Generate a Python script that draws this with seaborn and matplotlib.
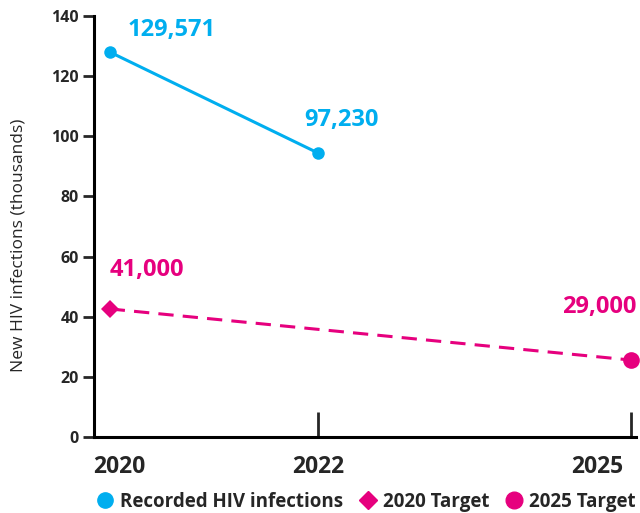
import matplotlib.pyplot as plt
import pandas as pd
import seaborn as sns
from matplotlib.lines import Line2D
from matplotlib.transforms import ScaledTranslation

# values (thousands)
recorded_years = [2020, 2022]
recorded_values = [128.0, 94.4]
recorded_labels = ["129,571", "97,230"]

target_years = [2020, 2025]
target_values = [42.6, 25.6]
target_labels = ["41,000", "29,000"]

tick_years = [2020, 2022, 2025]
tick_labels = ["2020", "2022", "2025"]

BLUE = "#00AEEF"
PINK = "#E6007E"

sns.set_style("white")
plt.rcParams["font.family"] = ["Open Sans", "DejaVu Sans"]

recorded = pd.DataFrame({"year": recorded_years, "value": recorded_values})
target = pd.DataFrame({"year": target_years, "value": target_values})

fig = plt.figure(figsize=(6.4, 5.13), dpi=100)
ax = fig.add_axes([0.147, 0.148, 0.847, 0.821])

sns.lineplot(data=recorded, x="year", y="value", color=BLUE, lw=2.2,
             marker="o", markersize=9, markeredgewidth=0, ax=ax)
sns.lineplot(data=target, x="year", y="value", color=PINK, lw=2.2,
             ax=ax)
ax.lines[-1].set_dashes([5, 3])
ax.plot(target_years[0], target_values[0], marker="D", color=PINK, ms=9, mew=0, clip_on=False)
ax.plot(target_years[1], target_values[1], marker="o", color=PINK, ms=12, mew=0, clip_on=False)

# value labels
ann = dict(textcoords="offset points", fontsize=17, fontweight="bold")
ax.annotate(recorded_labels[0], (recorded_years[0], recorded_values[0]),
            xytext=(13, 16), color=BLUE, ha="left", va="center", **ann)
ax.annotate(recorded_labels[1], (recorded_years[1], recorded_values[1]),
            xytext=(-10, 24), color=BLUE, ha="left", va="center", **ann)
ax.annotate(target_labels[0], (target_years[0], target_values[0]),
            xytext=(0, 28), color=PINK, ha="left", va="center", **ann)
ax.annotate(target_labels[1], (target_years[1], target_values[1]),
            xytext=(4, 38), color=PINK, ha="right", va="center", **ann)

ax.set_xlim(2019.85, 2025.05)
ax.set_ylim(0, 140)
ax.set_yticks(range(0, 141, 20))
ax.set_xticks(tick_years)
ax.set_xticklabels([])
for lab in ax.get_yticklabels():
    lab.set_fontweight("bold")
    lab.set_fontsize(11.5)

# year labels under the axis, nudged like the reference
nudges = [(0.10, "center"), (0.0, "center"), (-0.08, "right")]
for yr, txt, (dx, ha) in zip(tick_years, tick_labels, nudges):
    ax.text(yr, 0, txt, ha=ha, va="top", fontsize=16.5, fontweight="bold",
            transform=ax.get_xaxis_transform()
            + ScaledTranslation(dx, -0.18, fig.dpi_scale_trans))

ax.tick_params(axis="y", direction="out", length=8, width=2, pad=3, left=True)
ax.tick_params(axis="x", direction="in", length=18, width=2, bottom=True)
ax.xaxis.get_major_ticks()[0].tick1line.set_visible(False)

for side in ["top", "right"]:
    ax.spines[side].set_visible(False)
for side in ["left", "bottom"]:
    ax.spines[side].set_linewidth(2.2)
    ax.spines[side].set_color("black")

ax.set_xlabel("")
ax.set_ylabel("New HIV infections (thousands)", fontsize=12.5)
ax.yaxis.set_label_coords(-0.125, 0.456)

handles = [
    Line2D([], [], marker="o", color=BLUE, ls="none", ms=11),
    Line2D([], [], marker="D", color=PINK, ls="none", ms=9),
    Line2D([], [], marker="o", color=PINK, ls="none", ms=12),
]
labels = ["Recorded HIV infections", "2020 Target", "2025 Target"]
fig.legend(handles, labels, loc="lower center", bbox_to_anchor=(0.57, -0.03),
           ncol=3, frameon=False, handletextpad=0.2, columnspacing=0.7,
           handlelength=1.2, prop={"weight": "bold", "size": 13.5})

fig.savefig("out.png", dpi=100)
